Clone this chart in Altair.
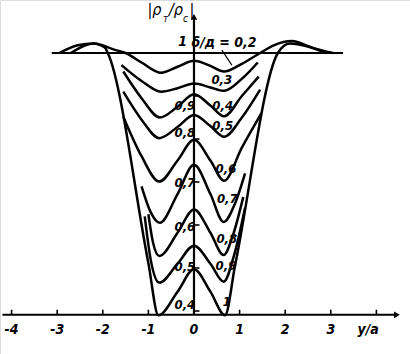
import altair as alt
import pandas as pd

# ---- data (x = y/a, v = |rho_t/rho_c|) ----
curve_names = ["0,2", "0,3", "0,4", "0,5", "0,6", "0,7", "0,8", "0,9", "1"]

x_02 = [-2.7, -2.2, -1.75, -1.5, -1.15, -0.72, -0.36, 0.0, 0.36, 0.66, 1.05, 1.45, 1.75, 2.15, 2.6, 3.05]
v_02 = [1.0, 1.022, 1.008, 1.0, 0.978, 0.954, 0.968, 0.982, 0.970, 0.957, 0.975, 1.0, 1.018, 1.028, 1.012, 1.0]

x_03 = [-1.59, -1.15, -0.72, -0.36, 0.0, 0.36, 0.66, 1.05, 1.40]
v_03 = [0.972, 0.935, 0.910, 0.918, 0.929, 0.920, 0.912, 0.940, 0.978]

x_04 = [-1.55, -1.15, -0.75, -0.36, 0.0, 0.36, 0.66, 1.05, 1.42]
v_04 = [0.957, 0.895, 0.850, 0.875, 0.904, 0.878, 0.853, 0.900, 0.945]

x_05 = [-1.55, -1.15, -0.76, -0.36, 0.0, 0.36, 0.66, 1.05, 1.45]
v_05 = [0.910, 0.845, 0.802, 0.828, 0.856, 0.830, 0.805, 0.850, 0.915]

x_06 = [-1.55, -1.15, -0.76, -0.36, 0.0, 0.36, 0.66, 1.05, 1.48]
v_06 = [0.852, 0.760, 0.701, 0.750, 0.798, 0.750, 0.703, 0.780, 0.860]

x_07 = [-1.15, -0.95, -0.75, -0.36, 0.0, 0.36, 0.65, 0.90, 1.12]
v_07 = [0.690, 0.630, 0.605, 0.672, 0.740, 0.672, 0.607, 0.650, 0.720]

x_08 = [-1.0, -0.9, -0.76, -0.36, 0.0, 0.36, 0.65, 0.85, 1.08]
v_08 = [0.625, 0.560, 0.528, 0.582, 0.636, 0.582, 0.530, 0.575, 0.665]

x_09 = [-1.08, -0.95, -0.76, -0.36, 0.0, 0.36, 0.65, 0.88, 1.12]
v_09 = [0.620, 0.520, 0.466, 0.510, 0.552, 0.510, 0.468, 0.530, 0.640]

x_10 = [-2.95, -2.55, -2.2, -1.95, -1.89, -1.0, -0.78, -0.36, 0.0, 0.36, 0.68, 0.9, 1.84, 2.1, 2.5, 2.9]
v_10 = [1.0, 1.018, 1.022, 1.012, 1.0, 0.511, 0.390, 0.445, 0.497, 0.445, 0.390, 0.505, 1.0, 1.022, 1.015, 1.0]

curves_x = [x_02, x_03, x_04, x_05, x_06, x_07, x_08, x_09, x_10]
curves_v = [v_02, v_03, v_04, v_05, v_06, v_07, v_08, v_09, v_10]

# curve labels (text, x, v)
label_text = ["0,3", "0,4", "0,5", "0,6", "0,7", "0,8", "0,9", "1"]
label_x = [0.61, 0.63, 0.63, 0.70, 0.73, 0.72, 0.70, 0.72]
label_v = [0.937, 0.877, 0.830, 0.730, 0.660, 0.567, 0.505, 0.422]

# axes
x_ticks = [-4, -3, -2, -1, 0, 1, 2, 3, 4]
x_tick_labels = ["-4", "-3", "-2", "-1", "0", "1", "2", "3"]
y_ticks = [0.4, 0.5, 0.6, 0.7, 0.8, 0.9]
y_tick_labels = ["0,4", "0,5", "0,6", "0,7", "0,8", "0,9"]
y_tick_label_v = [0.414, 0.503, 0.596, 0.697, 0.813, 0.877]
x_axis_v = 0.391
x_axis_range = [-4.2, 4.45]
y_axis_range = [0.391, 1.084]
top_line_range = [-3.12, 3.27]

FONT = "Liberation Sans Narrow, DejaVu Sans Condensed, Liberation Sans, sans-serif"

X = lambda f="x": alt.X(f"{f}:Q", axis=None, scale=alt.Scale(domain=[-4.254, 4.737], nice=False, zero=False))
Y = lambda f="v": alt.Y(f"{f}:Q", axis=None, scale=alt.Scale(domain=[0.3, 1.1233], nice=False, zero=False))

rows = []
for name, xs, vs in zip(curve_names, curves_x, curves_v):
    for i, (a, b) in enumerate(zip(xs, vs)):
        rows.append({"curve": name, "i": i, "x": a, "v": b})
df_curves = pd.DataFrame(rows)

curves = alt.Chart(df_curves).mark_line(interpolate="monotone", color="black", strokeWidth=2.5).encode(
    x=X(), y=Y(), detail="curve:N", order="i:Q"
)

df_top = pd.DataFrame({"x": [top_line_range[0]], "x2": [top_line_range[1]], "v": [1.0]})
top_line = alt.Chart(df_top).mark_rule(color="black", strokeWidth=1.8).encode(x=X(), x2="x2:Q", y=Y())

df_xaxis = pd.DataFrame({"x": [x_axis_range[0]], "x2": [x_axis_range[1]], "v": [x_axis_v]})
x_axis = alt.Chart(df_xaxis).mark_rule(color="black", strokeWidth=2).encode(x=X(), x2="x2:Q", y=Y())

df_yaxis = pd.DataFrame({"x": [0.0], "v": [y_axis_range[0]], "v2": [y_axis_range[1]]})
y_axis = alt.Chart(df_yaxis).mark_rule(color="black", strokeWidth=2.2).encode(x=X(), y=Y(), y2="v2:Q")

df_xt = pd.DataFrame({"x": x_ticks, "v": [x_axis_v] * len(x_ticks), "v2": [x_axis_v + 0.012] * len(x_ticks)})
x_tick_marks = alt.Chart(df_xt).mark_rule(color="black", strokeWidth=1.6).encode(x=X(), y=Y(), y2="v2:Q")

df_yt = pd.DataFrame({"x": [0.0] * len(y_ticks), "x2": [0.12] * len(y_ticks), "v": y_ticks})
y_tick_marks = alt.Chart(df_yt).mark_rule(color="black", strokeWidth=1.6).encode(x=X(), x2="x2:Q", y=Y())

df_arrows = pd.DataFrame({"x": [x_axis_range[1], 0.0], "v": [x_axis_v, y_axis_range[1]],
                          "shape": ["triangle-right", "triangle-up"]})
arrows = alt.Chart(df_arrows).mark_point(filled=True, color="black", size=45, opacity=1).encode(
    x=X(), y=Y(), shape=alt.Shape("shape:N", scale=None)
)

df_xl = pd.DataFrame({"x": x_ticks[:-1], "v": [0.356] * 8, "t": x_tick_labels})
x_labels = alt.Chart(df_xl).mark_text(font=FONT, fontSize=14, fontStyle="italic", fontWeight="bold",
                                      align="center", baseline="middle", color="black").encode(
    x=X(), y=Y(), text="t:N")

df_yl = pd.DataFrame({"x": [-0.2] * 6, "v": y_tick_label_v, "t": y_tick_labels})
y_labels = alt.Chart(df_yl).mark_text(font=FONT, fontSize=13, fontStyle="italic", fontWeight="bold",
                                      align="center", baseline="middle", color="black").encode(
    x=X(), y=Y(), text="t:N")

df_cl = pd.DataFrame({"x": label_x, "v": label_v, "t": label_text})
curve_labels = alt.Chart(df_cl).mark_text(font=FONT, fontSize=13, fontStyle="italic", fontWeight="bold",
                                          align="center", baseline="middle", color="black").encode(
    x=X(), y=Y(), text="t:N")

# other annotations
ann_text = ["1", "δ/д = 0,2", "y/a"]
ann_x = [-0.25, 0.66, 3.82]
ann_v = [1.026, 1.023, 0.356]
df_ann = pd.DataFrame({"x": ann_x, "v": ann_v, "t": ann_text})
annotations = alt.Chart(df_ann).mark_text(font=FONT, fontSize=14, fontStyle="italic", fontWeight="bold",
                                          align="center", baseline="middle", color="black").encode(
    x=X(), y=Y(), text="t:N")

# pointer from label to curve 0,2
df_ptr = pd.DataFrame({"x": [0.61], "v": [1.007], "x2": [0.83], "v2": [0.972]})
pointer = alt.Chart(df_ptr).mark_rule(color="black", strokeWidth=1.2).encode(x=X(), y=Y(), x2="x2:Q", y2="v2:Q")

# y-axis title |ρт/ρс|
title_parts = ["|ρ", "т", "/ρ", "с", "|"]
title_x = [-1.02, -0.68, -0.55, -0.24, -0.1]
title_v = [1.1, 1.078, 1.1, 1.078, 1.1]
title_size = [16, 10, 16, 10, 16]
df_title = pd.DataFrame({"x": title_x, "v": title_v, "t": title_parts, "s": title_size})
y_title = alt.Chart(df_title).mark_text(font=FONT, fontStyle="italic", align="left", baseline="middle",
                                        color="black").encode(
    x=X(), y=Y(), text="t:N", size=alt.Size("s:Q", scale=None, legend=None)
)

chart = alt.layer(
    top_line, x_axis, y_axis, x_tick_marks, y_tick_marks, arrows, curves, pointer,
    x_labels, y_labels, curve_labels, annotations, y_title
).properties(
    width=410, height=354, autosize=alt.AutoSizeParams(type="none"), padding=0
).configure_view(stroke=None).configure(background="white")

chart.save("out.html", embed_options={"renderer": "svg", "actions": False})
